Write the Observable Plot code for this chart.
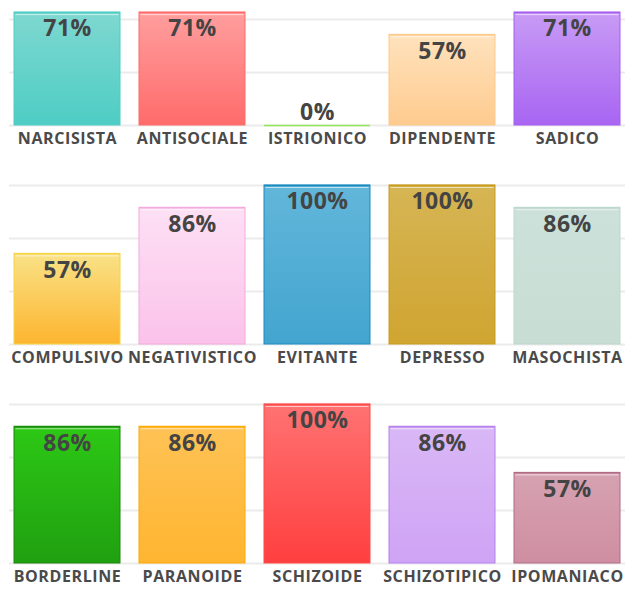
<!DOCTYPE html>
<html><head><meta charset="utf-8">
<script src="https://cdn.jsdelivr.net/npm/d3@7"></script>
<script src="https://cdn.jsdelivr.net/npm/@observablehq/plot@0.6"></script>
<style>
body{margin:0;background:#fff;font-family:"Open Sans",sans-serif;}
#chart svg{display:block}
#chart g[aria-label="x-axis tick label"]{letter-spacing:0.6px}
#chart g[aria-label="text"]{letter-spacing:0.5px}
</style></head><body><svg width="0" height="0" style="position:absolute"><defs id="gradDefs"></defs></svg><div id="chart"></div>
<script>
const categories = ["NARCISISTA","ANTISOCIALE","ISTRIONICO","DIPENDENTE","SADICO",
  "COMPULSIVO","NEGATIVISTICO","EVITANTE","DEPRESSO","MASOCHISTA",
  "BORDERLINE","PARANOIDE","SCHIZOIDE","SCHIZOTIPICO","IPOMANIACO"];
const values = [71,71,0,57,71, 57,86,100,100,86, 86,86,100,86,57];
const topColors = ["#7ed8d0","#ff9e9e","#b5f08f","#ffe2bd","#c89bf5",
  "#f9e287","#fde0f4","#62b6da","#d6b554","#cce1d9",
  "#2dc815","#fec255","#ff7272","#d9b8f6","#d6a2b1"];
const bottomColors = ["#4ecdc4","#ff6b6b","#8ee65a","#fecb8f","#a865f2",
  "#fdb52f","#fbc2ea","#43a5cf","#d0a531","#c8ddd4",
  "#20a010","#ffb530","#ff3f3f","#cfa3f5","#cf8ea2"];
const borderColors = ["#4ecdc4","#ff6b6b","#8ee65a","#fdc88a","#a45ef0",
  "#f5d545","#f5a9dd","#1b8bc2","#c99c1c","#bdd8ce",
  "#1a880d","#ffaa00","#ff4a4a","#b680ef","#b06b85"];
const gridTicks = [0, 33.33, 66.67, 100];

// gradients
const defs = document.getElementById("gradDefs");
const NS = "http://www.w3.org/2000/svg";
categories.forEach((c, i) => {
  const g = document.createElementNS(NS, "linearGradient");
  g.setAttribute("id", "grad" + i);
  g.setAttribute("x1", "0"); g.setAttribute("y1", "0");
  g.setAttribute("x2", "0"); g.setAttribute("y2", "1");
  [[0, topColors[i]], [1, bottomColors[i]]].forEach(([o, col]) => {
    const s = document.createElementNS(NS, "stop");
    s.setAttribute("offset", o);
    s.setAttribute("stop-color", col);
    g.appendChild(s);
  });
  defs.appendChild(g);
});

const data = categories.map((name, i) => ({
  name, value: values[i], fill: `url(#grad${i})`, stroke: borderColors[i], row: Math.floor(i / 5)
}));

const container = document.getElementById("chart");
for (let r = 0; r < 3; r++) {
  const rowData = data.filter(d => d.row === r);
  const first = r === 0;
  const chart = Plot.plot({
    width: 637,
    height: first ? 155 : 219,
    marginLeft: 9, marginRight: 12, marginBottom: 30, marginTop: first ? 0 : 30,
    x: {domain: rowData.map(d => d.name), range: [14, 620], paddingInner: 0.152, paddingOuter: 0, label: null},
    y: {domain: [0, 100], range: first ? [125, -34] : [189, 30], axis: null},
    color: {type: "identity"},
    style: {fontFamily: "'Open Sans', sans-serif", background: "transparent", overflow: "visible"},
    marks: [
      Plot.ruleY(gridTicks, {stroke: "#ebebeb", strokeWidth: 2}),
      Plot.barY(rowData, {x: "name", y: "value", fill: "fill", stroke: "stroke", strokeWidth: 1}),
      Plot.tickY(rowData, {x: "name", y: "value", stroke: "stroke", strokeWidth: 1.5}),
      Plot.tickY(rowData.filter(d => d.value > 0), {x: "name", y: "value", stroke: "white", strokeOpacity: 0.6, strokeWidth: 1, dy: 2, inset: 1.5}),
      Plot.text(rowData.filter(d => d.value > 0), {x: "name", y: "value", text: d => d.value + "%", dy: 16.5, fontSize: 23, fontWeight: "bold", fill: "#444"}),
      Plot.text(rowData.filter(d => d.value === 0), {x: "name", y: "value", text: d => d.value + "%", dy: -13, fontSize: 23, fontWeight: "bold", fill: "#444"}),
      Plot.axisX({tickSize: 0, tickPadding: 7, fontSize: 16, fontWeight: "bold", fill: "#4a4a4a", label: null})
    ]
  });
  container.appendChild(chart);
}
</script></body></html>
